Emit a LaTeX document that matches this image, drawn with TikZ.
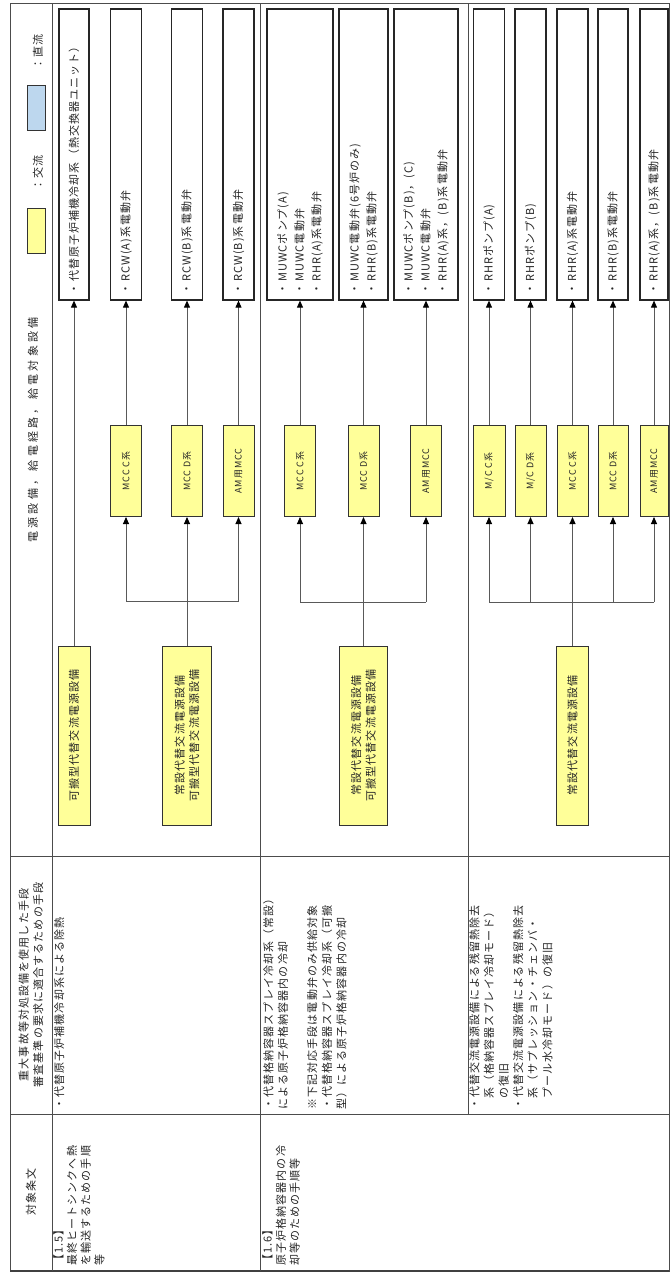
\documentclass[tikz,border=0pt]{standalone}
\usepackage{fontspec}
\setmainfont{Noto Sans CJK JP}[LetterSpace=10]
\usetikzlibrary{arrows.meta}
\definecolor{ylw}{HTML}{FFFF99}
\definecolor{blu}{HTML}{BDD7EE}
\newcommand{\txtA}{\fontsize{11}{14.6}\selectfont}
\newcommand{\txtB}{\fontsize{11}{17}\selectfont}
\newcommand{\txtJ}{\fontsize{11}{13.7}\selectfont}
\newcommand{\txtS}{\fontsize{9}{11}\selectfont}
\newcommand{\txtH}{\fontsize{11}{14}\selectfont\addfontfeature{LetterSpace=30}}
\begin{document}
\begin{tikzpicture}[x=1pt,y=-1pt,
  every node/.style={inner sep=0pt,text=black!85},
  tbl/.style={draw=black!70,line width=0.9pt},
  tgt/.style={draw=black!85,line width=1.2pt,fill=white,rotate=90,text width=279pt,inner xsep=6pt,inner ysep=0pt,minimum width=291pt,align=left,font=\txtB},
  mcc/.style={draw=black!80,line width=1pt,fill=ylw,rotate=90,minimum width=91pt,minimum height=31pt,font=\txtS},
  src/.style={draw=black!80,line width=1pt,fill=ylw,rotate=90,minimum width=179pt,align=center,font=\txtA},
  txt/.style={rotate=90,anchor=north west,align=left,font=\txtA},
  jo/.style={rotate=90,anchor=north west,align=left,font=\txtJ},
  arr/.style={draw=black!65,line width=0.9pt,-{Triangle[length=7pt,width=6pt,color=black]}},
  bus/.style={draw=black!65,line width=0.9pt}]
\useasboundingbox (0,0) rectangle (671,1275);
\fill[white] (0,0) rectangle (671,1275);
% table frame
\draw[tbl] (10,3) rectangle (669,1271);
\draw[black!75,line width=1.8pt] (10,1271) -- (669,1271);
\draw[tbl] (52,3) -- (52,1271);
\draw[tbl] (260,3) -- (260,1271);
\draw[tbl] (468,3) -- (468,1114);
\draw[tbl] (10,856) -- (669,856);
\draw[tbl] (10,1114) -- (669,1114);
% header
\node[draw=black!80,line width=1pt,fill=blu,minimum width=18pt,minimum height=45pt] (lb) at (36,107.5) {};
\node[rotate=90,font=\txtA] (lbt) at (38,52) {：直流};
\node[draw=black!80,line width=1pt,fill=ylw,minimum width=18pt,minimum height=45pt] (ly) at (36,230.5) {};
\node[rotate=90,font=\txtA] (lyt) at (38,173) {：交流};
\node[rotate=90,font=\txtH] (h3) at (33,430) {電源設備，給電経路，給電対象設備};
\node[rotate=90,font=\txtA,align=center] (h2) at (31,985) {重大事故等対処設備を使用した手段\\審査基準の要求に適合するための手段};
\node[rotate=90,font=\txtA] (h1) at (31,1192) {対象条文};
% ---------- row 1.5 ----------
\node[tgt,minimum height=30pt] (p1) at (74,154.5) {・代替原子炉補機冷却系（熱交換器ユニット）};
\node[tgt,minimum height=31pt] (p2) at (126,154.5) {・RCW(A)系電動弁};
\node[tgt,minimum height=31pt] (p3) at (187,154.5) {・RCW(B)系電動弁};
\node[tgt,minimum height=31pt] (p4) at (238.5,154.5) {・RCW(B)系電動弁};
\node[mcc] (pm2) at (126,471) {MCC C系};
\node[mcc] (pm3) at (187,471) {MCC D系};
\node[mcc] (pm4) at (238.5,471) {AM用MCC};
\node[src,minimum height=32pt] (ps1) at (74,735.5) {可搬型代替交流電源設備};
\node[src,minimum height=49pt] (ps2) at (187,735.5) {常設代替交流電源設備\\可搬型代替交流電源設備};
\coordinate (pb) at (0,601);
\draw[arr] (ps1.east) -- (p1.west);
\draw[arr] (ps2.east) -- (pm3.west);
\draw[bus] (pm2.west |- pb) -- (pm4.west |- pb);
\draw[arr] (pm2.west |- pb) -- (pm2.west);
\draw[arr] (pm4.west |- pb) -- (pm4.west);
\draw[arr] (pm2.east) -- (p2.west);
\draw[arr] (pm3.east) -- (p3.west);
\draw[arr] (pm4.east) -- (p4.west);
\node[txt] (pc) at (54,1110) {・代替原子炉補機冷却系による除熱};
\node[jo] (pj) at (53,1266) {【1.5】\\最終ヒートシンクへ熱\\を輸送するための手順\\等};
% ---------- row 1.6 ----------
\node[tgt,minimum height=66pt] (q1) at (300,154.5) {・MUWCポンプ(A)\\・MUWC電動弁\\・RHR(A)系電動弁};
\node[tgt,minimum height=49pt] (q2) at (363.5,154.5) {・MUWC電動弁(6号炉のみ)\\・RHR(B)系電動弁};
\node[tgt,minimum height=64pt] (q3) at (426,154.5) {・MUWCポンプ(B)，(C)\\・MUWC電動弁\\・RHR(A)系，(B)系電動弁};
\node[mcc] (qm1) at (300,471) {MCC C系};
\node[mcc] (qm2) at (363.5,471) {MCC D系};
\node[mcc] (qm3) at (426,471) {AM用MCC};
\node[src,minimum height=48pt] (qs) at (363.5,735.5) {常設代替交流電源設備\\可搬型代替交流電源設備};
\coordinate (qb) at (0,602);
\draw[arr] (qs.east) -- (qm2.west);
\draw[bus] (qm1.west |- qb) -- (qm3.west |- qb);
\draw[arr] (qm1.west |- qb) -- (qm1.west);
\draw[arr] (qm3.west |- qb) -- (qm3.west);
\draw[arr] (qm1.east) -- (q1.west);
\draw[arr] (qm2.east) -- (q2.west);
\draw[arr] (qm3.east) -- (q3.west);
\node[txt] (qc) at (263,1110) {・代替格納容器スプレイ冷却系（常設）\\による原子炉格納容器内の冷却\\\mbox{}\\※下記対応手段は電動弁のみ供給対象\\・代替格納容器スプレイ冷却系（可搬\\型）による原子炉格納容器内の冷却};
\node[jo] (qj) at (262,1266) {【1.6】\\原子炉格納容器内の冷\\却等のための手順等};
% ---------- row 3 ----------
\node[tgt,minimum height=31pt] (r1) at (489,154.5) {・RHRポンプ(A)};
\node[tgt,minimum height=31pt] (r2) at (530.5,154.5) {・RHRポンプ(B)};
\node[tgt,minimum height=31pt] (r3) at (572.5,154.5) {・RHR(A)系電動弁};
\node[tgt,minimum height=30pt] (r4) at (613,154.5) {・RHR(B)系電動弁};
\node[tgt,minimum height=28pt] (r5) at (654,154.5) {・RHR(A)系，(B)系電動弁};
\node[mcc,minimum height=32pt] (rm1) at (489,471) {M/C C系};
\node[mcc] (rm2) at (530.5,471) {M/C D系};
\node[mcc] (rm3) at (572.5,471) {MCC C系};
\node[mcc,minimum height=30pt] (rm4) at (613,471) {MCC D系};
\node[mcc,minimum height=28pt] (rm5) at (654,471) {AM用MCC};
\node[src,minimum height=32pt] (rs) at (572.5,735.5) {常設代替交流電源設備};
\coordinate (rb) at (0,602);
\draw[arr] (rs.east) -- (rm3.west);
\draw[bus] (rm1.west |- rb) -- (rm5.west |- rb);
\draw[arr] (rm1.west |- rb) -- (rm1.west);
\draw[arr] (rm2.west |- rb) -- (rm2.west);
\draw[arr] (rm4.west |- rb) -- (rm4.west);
\draw[arr] (rm5.west |- rb) -- (rm5.west);
\draw[arr] (rm1.east) -- (r1.west);
\draw[arr] (rm2.east) -- (r2.west);
\draw[arr] (rm3.east) -- (r3.west);
\draw[arr] (rm4.east) -- (r4.west);
\draw[arr] (rm5.east) -- (r5.west);
\node[txt] (rc) at (469,1110) {・代替交流電源設備による残留熱除去\\\hspace*{1em}系（格納容器スプレイ冷却モード）\\\hspace*{1em}の復旧\\・代替交流電源設備による残留熱除去\\\hspace*{1em}系（サプレッション・チェンバ・\\\hspace*{1em}プール水冷却モード）の復旧};
\end{tikzpicture}
\end{document}
